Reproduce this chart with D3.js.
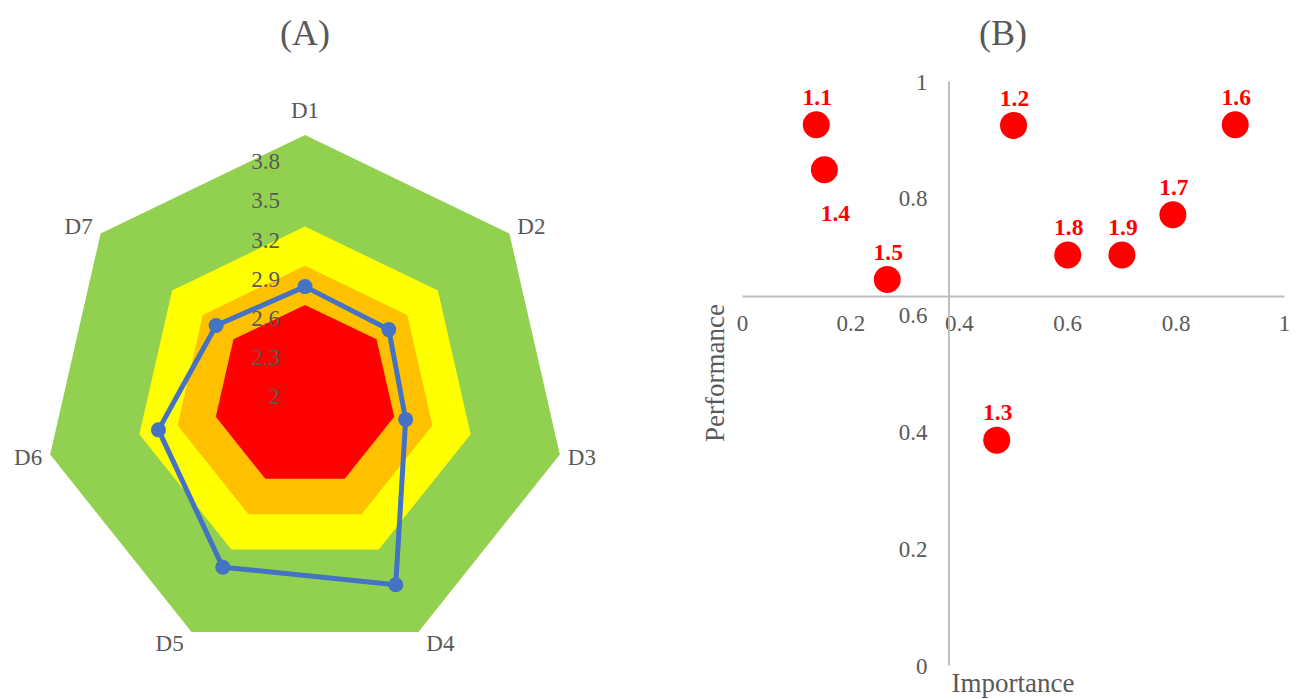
<!DOCTYPE html>
<html>
<head>
<meta charset="utf-8">
<script src="https://cdn.jsdelivr.net/npm/d3@7/dist/d3.min.js"></script>
<style>
  html, body { margin: 0; padding: 0; background: #ffffff; }
  svg { display: block; font-family: "Liberation Serif", "Times New Roman", serif; }
</style>
</head>
<body>
<svg id="chart" width="1297" height="699"></svg>
<script>
// ---- (A) radar chart data ----
const dimensions = ["D1", "D2", "D3", "D4", "D5", "D6", "D7"];
const scores = [2.84, 2.82, 2.79, 3.60, 3.45, 3.15, 2.87];
// upper limits of the coloured bands (drawn from outermost to innermost)
const bandLimits = [4.0, 3.3, 3.0, 2.7];
const bandColors = ["#92D050", "#FFFF00", "#FFC000", "#FF0000"];
const radarTicks = [2, 2.3, 2.6, 2.9, 3.2, 3.5, 3.8];
const radarMin = 2, radarMax = 4;

// ---- (B) importance-performance scatter data ----
const itemLabels = ["1.1", "1.2", "1.3", "1.4", "1.5", "1.6", "1.7", "1.8", "1.9"];
const importance = [0.137, 0.501, 0.470, 0.152, 0.268, 0.910, 0.795, 0.601, 0.701];
const performance = [0.925, 0.924, 0.385, 0.848, 0.660, 0.925, 0.771, 0.702, 0.702];
const axisTicks = [0, 0.2, 0.4, 0.6, 0.8, 1];
const xCrossesAt = 0.381;   // value of importance where the vertical axis sits
const yCrossesAt = 0.632;   // value of performance where the horizontal axis sits
const labelsBelow = ["1.4"];

const svg = d3.select("#chart");
const textGray = "#595959";
const tickSize = 23;

// ================= (A) Radar =================
const cx = 305, cy = 396.4, R = 261.4;
const rScale = d3.scaleLinear().domain([radarMin, radarMax]).range([0, R]);
const n = dimensions.length;
const angle = i => i * 2 * Math.PI / n;           // clockwise from the top
const pt = (i, v) => {
  const r = rScale(v), a = angle(i);
  return [cx + r * Math.sin(a), cy - r * Math.cos(a)];
};

const radar = svg.append("g").attr("class", "radar");

svg.append("text")
  .attr("x", cx).attr("y", 32).attr("dy", "0.35em")
  .attr("text-anchor", "middle")
  .attr("font-size", 36).attr("fill", textGray)
  .text("(A)");

// coloured bands
radar.selectAll("polygon.band")
  .data(bandLimits)
  .join("polygon")
  .attr("class", "band")
  .attr("points", lim => dimensions.map((d, i) => pt(i, lim).join(",")).join(" "))
  .attr("fill", (lim, k) => bandColors[k]);

// value labels along the first axis
radar.selectAll("text.rtick")
  .data(radarTicks)
  .join("text")
  .attr("class", "rtick")
  .attr("x", cx - 25)
  .attr("y", v => cy - rScale(v))
  .attr("dy", "0.35em")
  .attr("text-anchor", "end")
  .attr("font-size", tickSize)
  .attr("fill", textGray)
  .text(v => d3.format("~g")(v));

// category labels
radar.selectAll("text.dim")
  .data(dimensions)
  .join("text")
  .attr("class", "dim")
  .each(function (d, i) {
    const [vx, vy] = pt(i, radarMax);
    const s = Math.sin(angle(i)), c = Math.cos(angle(i));
    let dx = 0, dy = -25;
    if (Math.abs(s) > 0.01) { dx = Math.sign(s) * 22; dy = -c * 12; }
    d3.select(this).attr("x", vx + dx).attr("y", vy + dy);
  })
  .attr("dy", "0.35em")
  .attr("text-anchor", "middle")
  .attr("font-size", tickSize)
  .attr("fill", textGray)
  .text(d => d);

// score line
const linePts = scores.map((v, i) => pt(i, v));
radar.append("path")
  .attr("d", d3.line().curve(d3.curveLinearClosed)(linePts))
  .attr("fill", "none")
  .attr("stroke", "#4472C4")
  .attr("stroke-width", 5)
  .attr("stroke-linejoin", "round");

radar.selectAll("circle.mk")
  .data(linePts)
  .join("circle")
  .attr("class", "mk")
  .attr("cx", p => p[0]).attr("cy", p => p[1])
  .attr("r", 7.5)
  .attr("fill", "#4472C4");

// ================= (B) Scatter =================
const x = d3.scaleLinear().domain([0, 1]).range([742, 1284]);
const y = d3.scaleLinear().domain([0, 1]).range([665, 81]);
const fmt = d3.format("~g");
const axisGray = "#BFBFBF";

svg.append("text")
  .attr("x", 1003).attr("y", 32).attr("dy", "0.35em")
  .attr("text-anchor", "middle")
  .attr("font-size", 36).attr("fill", textGray)
  .text("(B)");

const scatter = svg.append("g").attr("class", "scatter");

const gx = scatter.append("g")
  .attr("transform", `translate(0,${y(yCrossesAt)})`)
  .call(d3.axisBottom(x).tickValues(axisTicks).tickFormat(fmt).tickSize(0).tickSizeOuter(0));
gx.select(".domain").attr("stroke", axisGray).attr("stroke-width", 2);
gx.selectAll(".tick text")
  .attr("y", 27).attr("dy", "0.35em")
  .attr("font-size", tickSize).attr("font-family", "Liberation Serif, serif")
  .attr("fill", textGray);

const gy = scatter.append("g")
  .attr("transform", `translate(${x(xCrossesAt)},0)`)
  .call(d3.axisLeft(y).tickValues(axisTicks).tickFormat(fmt).tickSize(0).tickSizeOuter(0));
gy.select(".domain").attr("stroke", axisGray).attr("stroke-width", 2);
gy.selectAll(".tick text")
  .attr("x", -21).attr("dy", "0.35em")
  .attr("font-size", tickSize).attr("font-family", "Liberation Serif, serif")
  .attr("fill", textGray);

// axis titles
scatter.append("text")
  .attr("x", (x(0) + x(1)) / 2).attr("y", 692)
  .attr("text-anchor", "middle")
  .attr("font-size", 27).attr("fill", textGray)
  .text("Importance");

scatter.append("text")
  .attr("transform", `translate(715,${(y(0) + y(1)) / 2}) rotate(-90)`)
  .attr("dy", "0.35em")
  .attr("text-anchor", "middle")
  .attr("font-size", 27).attr("fill", textGray)
  .text("Performance");

// points and labels
const items = itemLabels.map((lab, i) => ({ lab, imp: importance[i], perf: performance[i] }));

scatter.selectAll("circle.pt")
  .data(items)
  .join("circle")
  .attr("class", "pt")
  .attr("cx", d => x(d.imp)).attr("cy", d => y(d.perf))
  .attr("r", 13.5)
  .attr("fill", "#FF0000");

scatter.selectAll("text.plab")
  .data(items)
  .join("text")
  .attr("class", "plab")
  .attr("x", d => x(d.imp) + (labelsBelow.includes(d.lab) ? 11 : 1))
  .attr("y", d => y(d.perf) + (labelsBelow.includes(d.lab) ? 43 : -28))
  .attr("dy", "0.35em")
  .attr("text-anchor", "middle")
  .attr("font-size", 23.5).attr("font-weight", "bold")
  .attr("fill", "#FF0000")
  .text(d => d.lab);
</script>
</body>
</html>
